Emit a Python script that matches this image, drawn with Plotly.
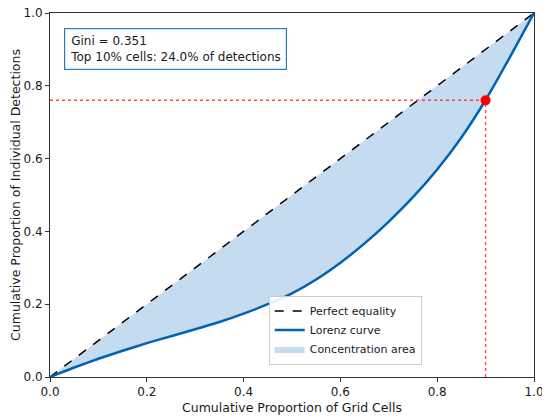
import plotly.graph_objects as go

# Data
cum_cells = [0, 0.05, 0.1, 0.15, 0.2, 0.25, 0.3, 0.35, 0.4, 0.45, 0.5,
             0.55, 0.6, 0.65, 0.7, 0.75, 0.8, 0.85, 0.9, 0.95, 1.0]
cum_detections = [0, 0.026, 0.05, 0.072, 0.093, 0.112, 0.131, 0.151, 0.174, 0.2, 0.23,
                  0.268, 0.314, 0.367, 0.427, 0.494, 0.57, 0.658, 0.761, 0.878, 1.0]
equality = [0, 1]
top_x = 0.9
top_y = 0.76
gini = 0.351
top_share = 24.0
tick_vals = [0, 0.2, 0.4, 0.6, 0.8, 1.0]

FONT = "DejaVu Sans"
BLUE = "#0063b1"
FILL = "#c5dcf0"
TXT = "#1a1a1a"

fig = go.Figure()

# Concentration area polygon (Lorenz curve then back along equality line)
area_x = cum_cells + cum_cells[::-1]
area_y = cum_detections + cum_cells[::-1]
fig.add_trace(go.Scatter(
    x=area_x, y=area_y, mode="lines", fill="toself", fillcolor=FILL,
    line=dict(width=0, color=FILL), name="Concentration area",
    legendrank=3, hoverinfo="skip"))

fig.add_trace(go.Scatter(
    x=equality, y=equality, mode="lines",
    line=dict(color="black", width=1.5, dash="dash"),
    name="Perfect equality", legendrank=1))

fig.add_trace(go.Scatter(
    x=cum_cells, y=cum_detections, mode="lines",
    line=dict(color=BLUE, width=2.5, shape="spline", smoothing=0.6),
    name="Lorenz curve", legendrank=2))

# Top 10% markers
fig.add_trace(go.Scatter(
    x=[0, top_x], y=[top_y, top_y], mode="lines",
    line=dict(color="rgba(255,0,0,0.7)", width=1.5, dash="dot"),
    showlegend=False))
fig.add_trace(go.Scatter(
    x=[top_x, top_x], y=[0, top_y], mode="lines",
    line=dict(color="rgba(255,0,0,0.7)", width=1.5, dash="dot"),
    showlegend=False))
fig.add_trace(go.Scatter(
    x=[top_x], y=[top_y], mode="markers",
    marker=dict(color="red", size=10), showlegend=False))

fig.add_annotation(
    xref="paper", yref="paper", x=0.028, y=0.958, xanchor="left", yanchor="top",
    text=f"Gini = {gini:.3f}<br>Top 10% cells: {top_share:.1f}% of detections",
    align="left", showarrow=False,
    font=dict(family=FONT, size=12, color=TXT),
    bordercolor="#2b7bb5", borderwidth=1.2, borderpad=5, bgcolor="white")

axis_common = dict(
    range=[0, 1], tickvals=tick_vals, tickformat=".1f", automargin=False,
    ticklabeloverflow="allow",
    showgrid=False, zeroline=False, showline=True, mirror=True,
    linecolor="#333333", linewidth=1, ticks="outside", ticklen=4,
    tickcolor="#333333", tickfont=dict(family=FONT, size=12, color=TXT))

fig.update_xaxes(title=dict(text="Cumulative Proportion of Grid Cells",
                            font=dict(family=FONT, size=12.5, color=TXT),
                            standoff=4), **axis_common)
fig.update_yaxes(title=dict(text="Cumulative Proportion of Individual Detections",
                            font=dict(family=FONT, size=12.5, color=TXT),
                            standoff=10), **axis_common)

# The page body has an 8px margin, so the figure is offset by 8px
fig.update_layout(
    width=542, height=411,
    margin=dict(l=42, r=16, t=5, b=42),
    plot_bgcolor="white", paper_bgcolor="white",
    font=dict(family=FONT),
    legend=dict(x=0.768, y=0.034, xanchor="right", yanchor="bottom",
                bgcolor="rgba(255,255,255,0.9)", bordercolor="#cccccc",
                borderwidth=1, font=dict(family=FONT, size=11, color=TXT),
                tracegroupgap=0, itemwidth=30),
    showlegend=True)

fig.write_html("out.html")
